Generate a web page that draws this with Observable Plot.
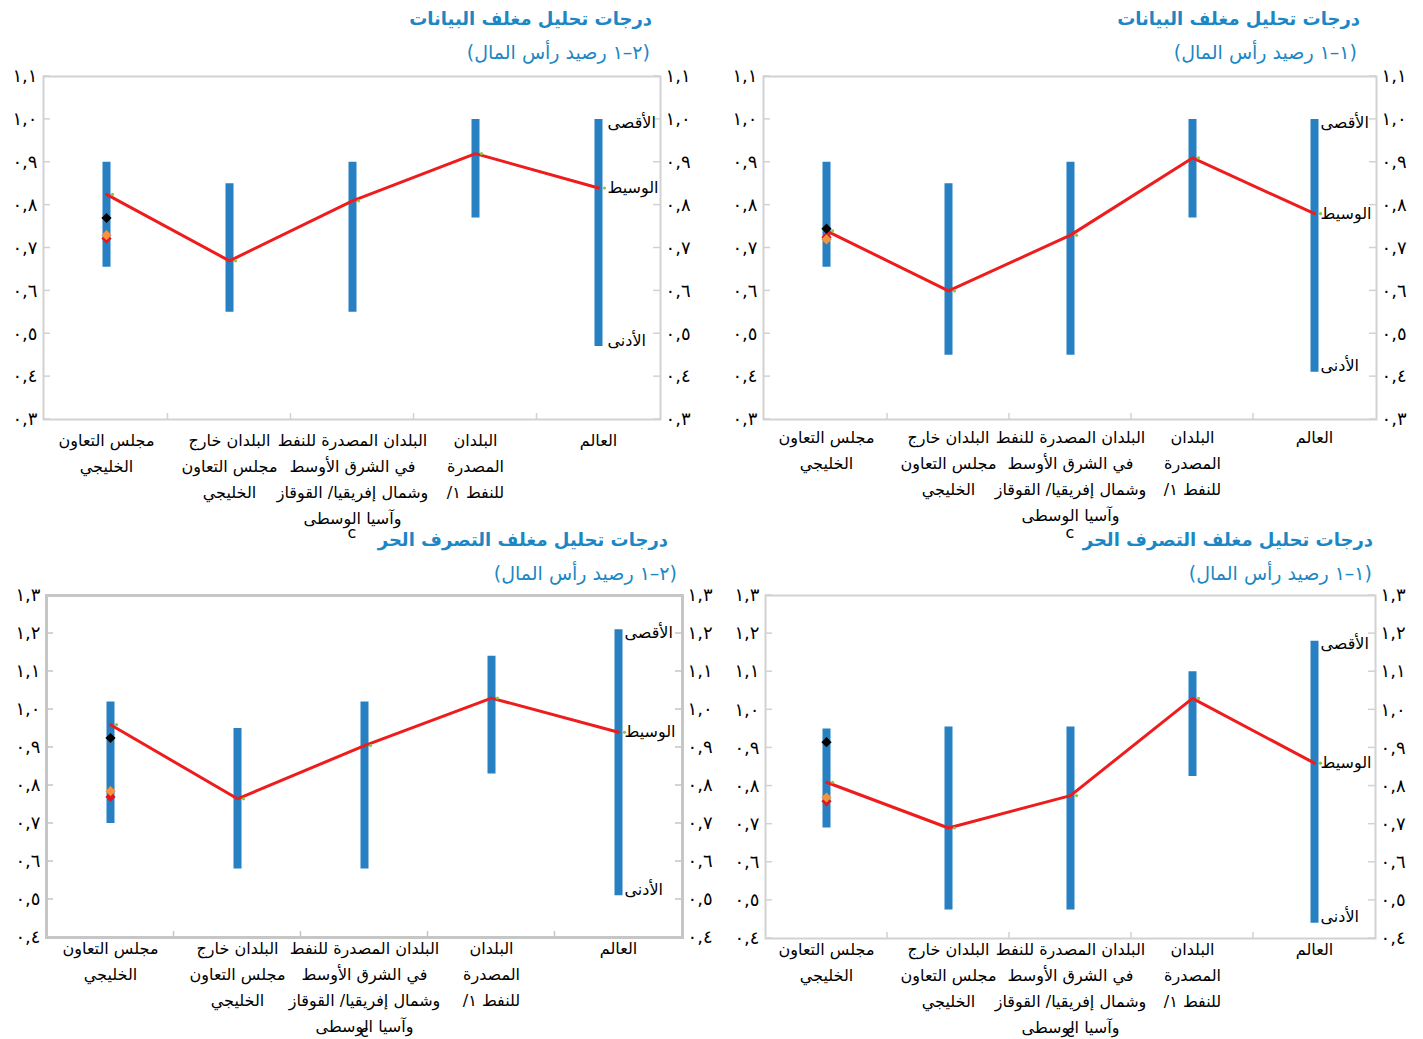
<!DOCTYPE html>
<html><head><meta charset="utf-8">
<script src="https://cdn.jsdelivr.net/npm/d3@7"></script>
<script src="https://cdn.jsdelivr.net/npm/@observablehq/plot@0.6"></script>
<style>
body{margin:0;background:#fff;}
#root{position:relative;width:1423px;height:1039px;overflow:hidden;font-family:"DejaVu Sans",sans-serif;}
.panel{position:absolute;}
.title{position:absolute;direction:rtl;text-align:right;color:#1b87c4;font-weight:bold;font-size:18px;line-height:26px;white-space:nowrap;}
.sub{position:absolute;direction:rtl;text-align:right;color:#1b87c4;font-size:19px;line-height:26px;white-space:nowrap;}
</style></head><body><div id="root"></div>
<script>
// ---- data ----
const categories = ["gcc", "nongcc", "mcd", "oil", "world"];
const categoryLabels = [
  "مجلس التعاون\nالخليجي",
  "البلدان خارج\nمجلس التعاون\nالخليجي",
  "البلدان المصدرة للنفط\nفي الشرق الأوسط\nوشمال إفريقيا/ القوقاز\nوآسيا الوسطى",
  "البلدان\nالمصدرة\nللنفط ١/",
  "العالم"
];
const rangeLabels = ["الأقصى", "الوسيط", "الأدنى"];
const yTicksTop = [0.3, 0.4, 0.5, 0.6, 0.7, 0.8, 0.9, 1.0, 1.1];
const yTicksBottom = [0.4, 0.5, 0.6, 0.7, 0.8, 0.9, 1.0, 1.1, 1.2, 1.3];

const titleDEA = "درجات تحليل مغلف البيانات";
const titleFDH = "درجات تحليل مغلف التصرف الحر";
const sub11 = "(١–١ رصيد رأس المال)";
const sub21 = "(٢–١ رصيد رأس المال)";

// DEA, capital stock 1-1 (top right)
const dea11Max = [0.90, 0.85, 0.90, 1.00, 1.00];
const dea11Min = [0.655, 0.45, 0.45, 0.77, 0.41];
const dea11Median = [0.74, 0.60, 0.73, 0.91, 0.78];
const dea11Gcc = {black: 0.745, orange: 0.72, red: 0.725};

// DEA, capital stock 2-1 (top left)
const dea21Max = [0.90, 0.85, 0.90, 1.00, 1.00];
const dea21Min = [0.655, 0.55, 0.55, 0.77, 0.47];
const dea21Median = [0.825, 0.67, 0.81, 0.92, 0.84];
const dea21Gcc = {black: 0.77, orange: 0.73, red: 0.722};

// FDH, capital stock 1-1 (bottom right)
const fdh11Max = [0.95, 0.955, 0.955, 1.10, 1.18];
const fdh11Min = [0.69, 0.475, 0.475, 0.825, 0.44];
const fdh11Median = [0.81, 0.69, 0.775, 1.03, 0.86];
const fdh11Gcc = {black: 0.915, orange: 0.77, red: 0.76};

// FDH, capital stock 2-1 (bottom left)
const fdh21Max = [1.02, 0.95, 1.02, 1.14, 1.21];
const fdh21Min = [0.70, 0.58, 0.58, 0.83, 0.51];
const fdh21Median = [0.96, 0.765, 0.905, 1.03, 0.94];
const fdh21Gcc = {black: 0.925, orange: 0.785, red: 0.77};

// ---- helpers ----
const arabicDigits = "٠١٢٣٤٥٦٧٨٩";
const fmtY = d => d.toFixed(1).replace(/\d/g, c => arabicDigits[+c]).replace(".", ",");
const labelOf = d => categoryLabels[categories.indexOf(d)];

function innerTicks(yTicks, color) {
  return (index, scales, values, dims) => {
    const {marginLeft, marginRight, marginBottom, width, height} = dims;
    const g = d3.create("svg:g").attr("stroke", color).attr("stroke-width", 1.5);
    const x0 = marginLeft, x1 = width - marginRight, yb = height - marginBottom;
    for (const t of yTicks) {
      const y = scales.y(t);
      g.append("line").attr("x1", x0).attr("x2", x0 + 7).attr("y1", y).attr("y2", y);
      g.append("line").attr("x1", x1 - 7).attr("x2", x1).attr("y1", y).attr("y2", y);
    }
    const step = scales.x(categories[1]) - scales.x(categories[0]);
    for (const c of categories.slice(1)) {
      const x = scales.x(c) - step / 2;
      g.append("line").attr("x1", x).attr("x2", x).attr("y1", yb).attr("y2", yb - 6);
    }
    return g.node();
  };
}

function panel(cfg) {
  const data = categories.map((c, i) => ({c, max: cfg.max[i], min: cfg.min[i], median: cfg.median[i]}));
  const gcc = data[0];
  const world = data[4];
  const chart = Plot.plot({
    width: cfg.width, height: cfg.height,
    marginLeft: cfg.ml, marginRight: cfg.mr, marginTop: cfg.mt, marginBottom: cfg.mb,
    x: {type: "point", domain: categories, padding: 0.5, axis: null},
    y: {domain: cfg.yDomain, axis: null},
    style: {fontFamily: "'DejaVu Sans', sans-serif", fontSize: "16px", color: "#000", background: "transparent"},
    marks: [
      Plot.frame({stroke: cfg.frameColor, strokeWidth: cfg.frameWidth}),
      innerTicks(cfg.yTicks, cfg.frameColor),
      Plot.axisY({ticks: cfg.yTicks, anchor: "left", tickSize: 0, tickPadding: 6, tickFormat: fmtY, fontSize: 18}),
      Plot.axisY({ticks: cfg.yTicks, anchor: "right", tickSize: 0, tickPadding: 5, tickFormat: fmtY, fontSize: 18}),
      Plot.axisX({anchor: "bottom", tickSize: 0, tickPadding: cfg.xPad, tickFormat: labelOf, lineHeight: 1.63}),
      Plot.ruleX(data, {x: "c", y1: "min", y2: "max", stroke: "#2680c2", strokeWidth: 8}),
      Plot.line(data, {x: "c", y: "median", stroke: "#ee1c1c", strokeWidth: 3}),
      Plot.dot(data, {x: "c", y: "median", r: 1.6, fill: "#8cc63f", stroke: null, dx: 6}),
      Plot.dot([gcc], {x: "c", y: () => cfg.gcc.red, symbol: "diamond2", r: 4.6, fill: "#e8141b"}),
      Plot.dot([gcc], {x: "c", y: () => cfg.gcc.orange, symbol: "diamond2", r: 4.6, fill: "#f7933b"}),
      Plot.dot([gcc], {x: "c", y: () => cfg.gcc.black, symbol: "diamond2", r: 4.6, fill: "#000"}),
      Plot.text([world], {x: "c", y: "max", text: () => rangeLabels[0], textAnchor: "start", dx: cfg.labelDx, dy: 3, fill: "#000"}),
      Plot.text([world], {x: "c", y: "median", text: () => rangeLabels[1], textAnchor: "start", dx: cfg.labelDx, dy: 0, fill: "#000"}),
      Plot.text([world], {x: "c", y: "min", text: () => rangeLabels[2], textAnchor: "start", lineAnchor: "bottom", dx: cfg.labelDx, dy: -1, fill: "#000"})
    ]
  });
  chart.querySelectorAll('g[aria-label="y-axis tick label"]').forEach(g => g.setAttribute("letter-spacing", "2.5"));
  chart.querySelectorAll('g[aria-label="x-axis tick label"] text').forEach(t => t.setAttribute("direction", "rtl"));
  const wrap = document.createElement("div");
  wrap.className = "panel";
  wrap.style.left = cfg.left + "px";
  wrap.style.top = cfg.top + "px";
  wrap.appendChild(chart);
  document.getElementById("root").appendChild(wrap);
}

function addText(cls, text, right, top) {
  const d = document.createElement("div");
  d.className = cls;
  d.textContent = text;
  d.style.right = right + "px";
  d.style.top = top + "px";
  document.getElementById("root").appendChild(d);
}

// top right: DEA 1-1
panel({left: 720, top: 60, width: 703, height: 480, ml: 43, mr: 47, mt: 16, mb: 121,
  yDomain: [0.3, 1.1], yTicks: yTicksTop, max: dea11Max, min: dea11Min, median: dea11Median, gcc: dea11Gcc,
  frameColor: "#d2d2d2", frameWidth: 2, xPad: 5, labelDx: 6});
// top left: DEA 2-1
panel({left: 0, top: 60, width: 715, height: 480, ml: 43, mr: 55, mt: 16, mb: 121,
  yDomain: [0.3, 1.1], yTicks: yTicksTop, max: dea21Max, min: dea21Min, median: dea21Median, gcc: dea21Gcc,
  frameColor: "#d2d2d2", frameWidth: 2, xPad: 8, labelDx: 9});
// bottom left: FDH 2-1
panel({left: 0, top: 580, width: 720, height: 459, ml: 46, mr: 38, mt: 15, mb: 102,
  yDomain: [0.4, 1.3], yTicks: yTicksBottom, max: fdh21Max, min: fdh21Min, median: fdh21Median, gcc: fdh21Gcc,
  frameColor: "#c6c6c6", frameWidth: 3, xPad: -2, labelDx: 6});
// bottom right: FDH 1-1
panel({left: 720, top: 580, width: 703, height: 459, ml: 45, mr: 48, mt: 15, mb: 101,
  yDomain: [0.4, 1.3], yTicks: yTicksBottom, max: fdh11Max, min: fdh11Min, median: fdh11Median, gcc: fdh11Gcc,
  frameColor: "#d2d2d2", frameWidth: 2, xPad: -2, labelDx: 6});

addText("title", titleDEA, 63, 6);
addText("sub", sub11, 66, 39);
addText("title", titleDEA, 771, 6);
addText("sub", sub21, 773, 39);
addText("title", titleFDH, 50, 527);
addText("sub", sub11, 51, 560);
addText("title", titleFDH, 755, 527);
addText("sub", sub21, 746, 560);
</script>
</body></html>
